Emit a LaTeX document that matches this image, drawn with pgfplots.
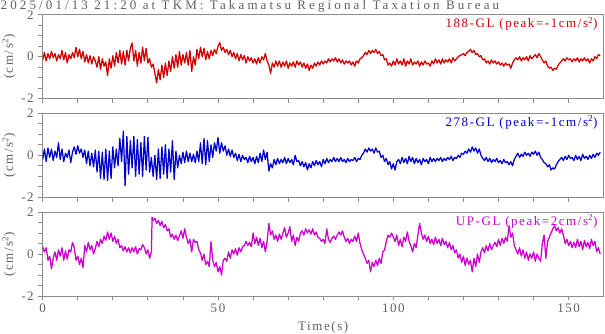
\documentclass[border=0pt]{standalone}
\usepackage{fontspec}
\setmainfont{Liberation Serif}[LetterSpace=12]
\newfontfamily\titlefont{Liberation Serif}[LetterSpace=24]
\usepackage{pgfplots}
\pgfplotsset{compat=1.18}
\definecolor{tred}{RGB}{208,0,0}
\definecolor{tblue}{RGB}{0,0,204}
\definecolor{tmag}{RGB}{204,0,204}
\definecolor{framec}{RGB}{140,140,140}
\definecolor{txt}{RGB}{95,95,95}
\pgfplotsset{panel/.style={
  scale only axis, width=561pt, height=84pt,
  xmin=0, xmax=160, ymin=-2, ymax=2,
  xtick={0,50,100,150}, minor x tick num=4,
  ytick={-2,0,2}, minor y tick num=3,
  tick align=outside, xtick pos=bottom, ytick pos=left,
  major tick length=4.5pt, minor tick length=4.5pt,
  axis line style={framec, line width=0.8pt},
  every tick/.style={framec, line width=0.8pt},
  every minor tick/.style={framec, line width=0.8pt},
  tick label style={text=txt, font=\fontsize{13}{13}\selectfont},
  /pgf/number format/assume math mode=true,
  ylabel={(cm/s\textsuperscript{2})},
  ylabel style={at={(axis description cs:-0.06,0.5)}, anchor=center, text=txt, font=\fontsize{13}{13}\selectfont},
  yticklabel style={anchor=east, xshift=-1pt},
  every axis plot/.append style={line width=1.25pt, line join=round},
}}
\begin{document}
\begin{tikzpicture}
\useasboundingbox (0,0) rectangle (605pt,334pt);
\node[anchor=base west, text=txt, font=\titlefont\fontsize{13}{13}\selectfont, inner sep=0pt] at (0.5pt,324.5pt) {2025/01/13 21:20 at TKM: Takamatsu Regional Taxation Bureau};
% Panel 1
\begin{axis}[panel, at={(42.7pt,235.3pt)}, anchor=south west, xticklabels={}]
\addplot[tred] coordinates {
(0,-0.15)(0.5,0.2)(1,-0.2)(1.5,0.15)(2,-0.1)(2.5,0.25)(3,-0.05)(3.5,0.15)(4,-0.2)(4.5,0.1)
(5,-0.1)(5.5,0.3)(6,-0.15)(6.5,0.2)(7,-0.3)(7.5,0.1)(8,-0.1)(8.5,0.2)(9,-0.05)(9.5,0.45)
(10,0.0)(10.5,0.35)(11,-0.1)(11.5,0.25)(12,-0.25)(12.5,0.1)(13,-0.3)(13.5,0.05)(14,-0.35)(14.5,0.0)
(15,-0.2)(15.5,-0.5)(16,0.0)(16.5,-0.6)(17,-0.1)(17.5,-0.45)(18,-0.25)(18.5,-0.9)(19,-0.1)(19.5,-0.55)
(20,0.05)(20.5,-0.45)(21,0.2)(21.5,-0.3)(22,0.3)(22.5,-0.35)(23,0.25)(23.5,-0.4)(24,0.3)(24.5,-0.2)
(25,0.4)(25.5,0.65)(26,-0.2)(26.5,0.3)(27,-0.45)(27.5,0.2)(28,-0.3)(28.5,0.45)(29,-0.2)(29.5,0.4)
(30,-0.3)(30.5,-0.1)(31,-0.5)(31.5,-0.35)(32,-0.8)(32.5,-1.25)(33,-0.6)(33.5,-1.1)(34,-0.4)(34.5,-1.0)
(35,-0.3)(35.5,-0.9)(36,-0.2)(36.5,-0.7)(37,0.0)(37.5,-0.55)(38,0.1)(38.5,-0.5)(39,0.25)(39.5,-0.4)
(40,0.1)(40.5,-0.3)(41,0.2)(41.5,-0.4)(42,0.3)(42.5,-0.7)(43,0.0)(43.5,-0.4)(44,0.35)(44.5,-0.1)
(45,0.45)(45.5,0.0)(46,0.4)(46.5,-0.15)(47,0.25)(47.5,-0.1)(48,0.3)(48.5,0.05)(49,0.35)(49.5,0.15)
(50,0.5)(50.5,0.67)(51,0.3)(51.5,0.45)(52,0.2)(52.5,0.35)(53,0.1)(53.5,0.3)(54,0.0)(54.5,0.2)
(55,-0.1)(55.5,0.15)(56,-0.2)(56.5,0.1)(57,-0.15)(57.5,0.05)(58,-0.3)(58.5,0.0)(59,-0.2)(59.5,-0.05)
(60,-0.3)(60.5,-0.1)(61,-0.35)(61.5,-0.05)(62,-0.3)(62.5,0.0)(63,-0.15)(63.5,0.15)(64,-0.2)(64.5,-0.4)
(65,-0.8)(65.5,-0.3)(66,-0.5)(66.5,-0.2)(67,-0.45)(67.5,-0.2)(68,-0.5)(68.5,-0.25)(69,-0.45)(69.5,-0.2)
(70,-0.55)(70.5,-0.3)(71,-0.45)(71.5,-0.25)(72,-0.5)(72.5,-0.2)(73,-0.4)(73.5,-0.25)(74,-0.5)(74.5,-0.3)
(75,-0.55)(75.5,-0.35)(76,-0.65)(76.5,-0.4)(77,-0.55)(77.5,-0.3)(78,-0.45)(78.5,-0.25)(79,-0.4)(79.5,-0.2)
(80,-0.35)(80.5,-0.2)(81,-0.3)(81.5,-0.1)(82,-0.25)(82.5,-0.1)(83,-0.2)(83.5,-0.05)(84,-0.25)(84.5,-0.1)
(85,-0.3)(85.5,-0.15)(86,-0.35)(86.5,-0.2)(87,-0.3)(87.5,-0.2)(88,-0.4)(88.5,-0.25)(89,-0.45)(89.5,-0.2)
(90,-0.3)(90.5,-0.1)(91,-0.05)(91.5,0.05)(92,0.2)(92.5,0.1)(93,0.3)(93.5,0.15)(94,0.3)(94.5,0.2)
(95,0.35)(95.5,0.15)(96,0.25)(96.5,0.05)(97,0.1)(97.5,-0.15)(98,-0.1)(98.5,-0.4)(99,-0.3)(99.5,-0.45)
(100,-0.2)(100.5,-0.4)(101,-0.1)(101.5,-0.35)(102,-0.2)(102.5,-0.4)(103,-0.1)(103.5,-0.45)(104,-0.2)(104.5,-0.35)
(105,-0.1)(105.5,-0.4)(106,-0.25)(106.5,-0.35)(107,-0.2)(107.5,-0.45)(108,-0.25)(108.5,-0.4)(109,-0.2)(109.5,-0.35)
(110,-0.3)(110.5,-0.45)(111,-0.2)(111.5,-0.35)(112,-0.1)(112.5,-0.3)(113,-0.15)(113.5,-0.35)(114,-0.1)(114.5,-0.3)
(115,-0.15)(115.5,-0.25)(116,-0.1)(116.5,-0.3)(117,-0.05)(117.5,-0.2)(118,-0.1)(118.5,0.0)(119,0.05)(119.5,0.1)
(120,0.15)(120.5,0.05)(121,0.2)(121.5,0.25)(122,0.35)(122.5,0.2)(123,0.3)(123.5,0.1)(124,0.15)(124.5,0.0)
(125,0.05)(125.5,-0.15)(126,-0.1)(126.5,-0.3)(127,-0.2)(127.5,-0.35)(128,-0.15)(128.5,-0.3)(129,-0.2)(129.5,-0.35)
(130,-0.25)(130.5,-0.4)(131,-0.3)(131.5,-0.45)(132,-0.3)(132.5,-0.4)(133,-0.35)(133.5,-0.55)(134,-0.3)(134.5,-0.15)
(135,-0.05)(135.5,-0.15)(136,0.0)(136.5,-0.2)(137,-0.05)(137.5,-0.15)(138,0.0)(138.5,-0.2)(139,0.05)(139.5,-0.1)
(140,0.0)(140.5,0.1)(141,-0.05)(141.5,0.15)(142,0.0)(142.5,-0.15)(143,-0.3)(143.5,-0.2)(144,-0.45)(144.5,-0.55)
(145,-0.5)(145.5,-0.65)(146,-0.55)(146.5,-0.6)(147,-0.4)(147.5,-0.3)(148,-0.2)(148.5,-0.1)(149,-0.2)(149.5,-0.05)
(150,-0.15)(150.5,-0.1)(151,-0.25)(151.5,-0.1)(152,-0.2)(152.5,-0.05)(153,-0.25)(153.5,-0.1)(154,-0.2)(154.5,-0.05)
(155,-0.2)(155.5,-0.1)(156,-0.3)(156.5,-0.1)(157,-0.2)(157.5,0.0)(158,-0.1)(158.5,0.1)(159,0.05)
};
\node[anchor=base east, text=tred, font=\fontsize{13}{13}\selectfont, inner sep=0pt] at ([xshift=-6pt,yshift=-13pt]axis description cs:1,1) {188-GL (peak=-1cm/s\textsuperscript{2})};
\end{axis}
% Panel 2
\begin{axis}[panel, at={(42.7pt,136.7pt)}, anchor=south west, xticklabels={}]
\addplot[tblue] coordinates {
(0,-0.2)(0.5,0.3)(1,-0.3)(1.5,0.35)(2,-0.1)(2.5,0.3)(3,-0.25)(3.5,0.2)(4,-0.1)(4.5,0.6)
(5,-0.2)(5.5,0.3)(6,-0.3)(6.5,0.1)(7,-0.1)(7.5,0.25)(8,-0.35)(8.5,0.15)(9,0.4)(9.5,0.05)
(10,0.45)(10.5,0.1)(11,0.3)(11.5,-0.1)(12,0.25)(12.5,-0.4)(13,0.2)(13.5,-0.5)(14,0.1)(14.5,-0.55)
(15,0.25)(15.5,-0.8)(16,0.2)(16.5,-1.1)(17,0.15)(17.5,-1.15)(18,0.3)(18.5,-1.2)(19,0.2)(19.5,-1.1)
(20,0.4)(20.5,-0.6)(21,0.3)(21.5,-0.5)(22,0.8)(22.5,-0.3)(23,1.15)(23.5,-1.45)(24,0.9)(24.5,-0.9)
(25,0.7)(25.5,-0.6)(26,0.9)(26.5,-1.0)(27,0.75)(27.5,-0.9)(28,0.6)(28.5,-1.0)(29,0.9)(29.5,-0.7)
(30,0.85)(30.5,-0.8)(31,-0.1)(31.5,-1.0)(32,0.0)(32.5,-1.15)(33,0.3)(33.5,-1.1)(34,0.4)(34.5,-0.9)
(35,0.5)(35.5,-1.1)(36,0.3)(36.5,-0.8)(37,0.7)(37.5,-1.15)(38,0.2)(38.5,-0.6)(39,0.0)(39.5,-0.4)
(40,0.15)(40.5,-0.35)(41,0.2)(41.5,-0.3)(42,0.1)(42.5,-0.3)(43,0.05)(43.5,-0.35)(44,0.2)(44.5,-0.3)
(45,0.6)(45.5,-0.4)(46,0.8)(46.5,-0.45)(47,0.7)(47.5,-0.3)(48,0.5)(48.5,-0.1)(49,0.6)(49.5,0.2)
(50,0.85)(50.5,0.1)(51,0.6)(51.5,0.2)(52,0.45)(52.5,0.0)(53,0.3)(53.5,-0.05)(54,0.25)(54.5,-0.1)
(55,0.1)(55.5,-0.25)(56,0.05)(56.5,-0.3)(57,0.0)(57.5,-0.2)(58,-0.1)(58.5,-0.35)(59,-0.05)(59.5,-0.3)
(60,-0.1)(60.5,-0.4)(61,-0.05)(61.5,-0.35)(62,0.1)(62.5,-0.3)(63,0.25)(63.5,-0.2)(64,0.15)(64.5,-0.75)
(65,-0.4)(65.5,-0.6)(66,-0.2)(66.5,-0.45)(67,-0.15)(67.5,-0.4)(68,-0.2)(68.5,-0.35)(69,-0.1)(69.5,-0.4)
(70,-0.15)(70.5,-0.35)(71,-0.2)(71.5,-0.45)(72,0.0)(72.5,-0.3)(73,-0.25)(73.5,-0.5)(74,-0.3)(74.5,-0.55)
(75,-0.35)(75.5,-0.7)(76,-0.4)(76.5,-0.6)(77,-0.3)(77.5,-0.5)(78,-0.25)(78.5,-0.45)(79,-0.3)(79.5,-0.55)
(80,-0.2)(80.5,-0.4)(81,-0.15)(81.5,-0.35)(82,-0.2)(82.5,-0.3)(83,-0.1)(83.5,-0.3)(84,-0.15)(84.5,-0.3)
(85,-0.1)(85.5,-0.3)(86,-0.2)(86.5,-0.35)(87,-0.15)(87.5,-0.3)(88,-0.2)(88.5,-0.25)(89,-0.1)(89.5,-0.3)
(90,-0.15)(90.5,-0.2)(91,0.0)(91.5,0.1)(92,0.3)(92.5,0.15)(93,0.35)(93.5,0.2)(94,0.3)(94.5,0.1)
(95,0.35)(95.5,0.15)(96,0.2)(96.5,-0.1)(97,0.0)(97.5,-0.3)(98,-0.15)(98.5,-0.45)(99,-0.3)(99.5,-0.65)
(100,-0.4)(100.5,-0.7)(101,-0.3)(101.5,-0.2)(102,-0.4)(102.5,-0.1)(103,-0.35)(103.5,-0.15)(104,-0.4)(104.5,-0.05)
(105,-0.3)(105.5,-0.1)(106,-0.4)(106.5,-0.15)(107,-0.35)(107.5,-0.2)(108,-0.45)(108.5,-0.15)(109,-0.3)(109.5,-0.2)
(110,-0.4)(110.5,-0.1)(111,-0.3)(111.5,-0.15)(112,-0.3)(112.5,-0.15)(113,-0.25)(113.5,-0.1)(114,-0.3)(114.5,-0.15)
(115,-0.25)(115.5,-0.1)(116,-0.2)(116.5,-0.05)(117,-0.25)(117.5,-0.1)(118,-0.15)(118.5,0.0)(119,-0.1)(119.5,0.1)
(120,0.05)(120.5,0.2)(121,0.1)(121.5,0.3)(122,0.15)(122.5,0.4)(123,0.2)(123.5,0.35)(124,0.1)(124.5,0.3)
(125,0.0)(125.5,-0.15)(126,-0.25)(126.5,-0.1)(127,-0.3)(127.5,-0.15)(128,-0.35)(128.5,-0.2)(129,-0.3)(129.5,-0.15)
(130,-0.35)(130.5,-0.25)(131,-0.4)(131.5,-0.2)(132,-0.35)(132.5,-0.3)(133,-0.45)(133.5,-0.3)(134,-0.5)(134.5,-0.2)
(135,-0.05)(135.5,0.1)(136,-0.1)(136.5,0.05)(137,-0.05)(137.5,0.15)(138,0.0)(138.5,0.1)(139,-0.05)(139.5,0.15)
(140,0.05)(140.5,0.2)(141,0.0)(141.5,0.15)(142,-0.1)(142.5,-0.2)(143,-0.35)(143.5,-0.4)(144,-0.55)(144.5,-0.45)
(145,-0.7)(145.5,-0.6)(146,-0.65)(146.5,-0.45)(147,-0.3)(147.5,-0.2)(148,-0.1)(148.5,-0.25)(149,-0.05)(149.5,-0.2)
(150,0.0)(150.5,-0.15)(151,-0.1)(151.5,-0.25)(152,0.0)(152.5,-0.2)(153,-0.05)(153.5,-0.25)(154,0.05)(154.5,-0.15)
(155,-0.05)(155.5,-0.2)(156,0.0)(156.5,-0.15)(157,0.05)(157.5,-0.1)(158,0.1)(158.5,0.0)(159,0.15)
};
\node[anchor=base east, text=tblue, font=\fontsize{13}{13}\selectfont, inner sep=0pt] at ([xshift=-6pt,yshift=-13pt]axis description cs:1,1) {278-GL (peak=-1cm/s\textsuperscript{2})};
\end{axis}
% Panel 3
\begin{axis}[panel, at={(42.7pt,38pt)}, anchor=south west,
  xlabel={Time(s)}, xlabel style={at={(axis description cs:0.5,0)}, anchor=base, yshift=-35pt, text=txt, font=\fontsize{13}{13}\selectfont}]
\addplot[tmag] coordinates {
(0,0.35)(0.5,0.1)(1,0.3)(1.5,-0.3)(2,-0.1)(2.5,-0.7)(3,-0.2)(3.5,0.1)(4,-0.3)(4.5,0.2)
(5,-0.1)(5.5,0.3)(6,-0.3)(6.5,0.15)(7,-0.25)(7.5,0.2)(8,0.1)(8.5,0.55)(9,0.3)(9.5,-0.3)
(10,-0.1)(10.5,-0.5)(11,-0.2)(11.5,-0.65)(12,0.4)(12.5,0.1)(13,0.55)(13.5,0.2)(14,0.4)(14.5,0.0)
(15,0.25)(15.5,0.6)(16,0.35)(16.5,0.7)(17,0.5)(17.5,0.85)(18,0.65)(18.5,1.05)(19,0.7)(19.5,1.0)
(20,0.6)(20.5,0.85)(21,0.5)(21.5,0.7)(22,0.3)(22.5,0.4)(23,0.15)(23.5,0.35)(24,0.1)(24.5,0.3)
(25,0.05)(25.5,0.3)(26,0.1)(26.5,0.35)(27,0.0)(27.5,0.25)(28,0.2)(28.5,0.45)(29,0.3)(29.5,0.0)
(30,0.2)(30.5,-0.2)(31,0.1)(31.2,1.75)(31.5,1.6)(32,1.7)(32.5,1.45)(33,1.6)(33.5,1.35)(34,1.55)(34.5,1.25)
(35,1.4)(35.5,1.1)(36,1.2)(36.5,0.8)(37,0.95)(37.5,0.7)(38,0.9)(38.5,0.65)(39,0.85)(39.5,1.1)
(40,0.75)(40.5,1.2)(41,0.8)(41.5,0.5)(42,0.7)(42.5,0.1)(43,0.7)(43.5,0.55)(44,0.6)(44.5,0.2)
(45,0.05)(45.5,-0.3)(46,0.0)(46.5,-0.5)(47,-0.35)(47.5,-0.6)(48,0.6)(48.5,-0.3)(49,-0.6)(49.5,-0.4)
(50,-0.85)(50.5,-0.6)(51,-1.0)(51.5,-0.3)(52,-0.2)(52.5,-0.35)(53,0.1)(53.5,-0.2)(54,0.2)(54.5,0.0)
(55,0.25)(55.5,-0.05)(56,0.3)(56.5,0.1)(57,0.35)(57.5,0.4)(58,0.6)(58.5,0.4)(59,0.55)(59.5,0.35)
(60,1.0)(60.5,0.5)(61,0.8)(61.5,0.4)(62,0.75)(62.5,0.3)(63,0.6)(63.5,0.1)(64,0.6)(64.5,1.45)
(65,0.9)(65.5,1.1)(66,0.7)(66.5,0.9)(67,0.6)(67.5,0.95)(68,0.7)(68.5,1.0)(69,1.25)(69.5,0.8)
(70,1.0)(70.5,1.3)(71,0.6)(71.5,0.9)(72,0.4)(72.5,0.8)(73,0.6)(73.5,1.0)(74,1.1)(74.5,0.9)
(75,1.2)(75.5,1.0)(76,1.15)(76.5,0.95)(77,1.2)(77.5,0.9)(78,1.05)(78.5,0.8)(79,0.75)(79.5,0.6)
(80,0.7)(80.5,0.5)(81,1.2)(81.5,0.7)(82,0.55)(82.5,0.75)(83,0.85)(83.5,0.7)(84,0.9)(84.5,1.05)
(85,0.9)(85.5,1.1)(86,0.8)(86.5,0.6)(87,0.75)(87.5,0.5)(88,0.7)(88.5,0.6)(89,0.85)(89.5,0.6)
(90,1.0)(90.5,0.5)(91,0.2)(91.5,0.0)(92,-0.2)(92.5,-0.45)(93,-0.3)(93.5,-0.85)(94,-0.4)(94.5,-0.6)
(95,-0.3)(95.5,-0.55)(96,-0.2)(96.5,-0.45)(97,0.1)(97.5,0.2)(98,0.6)(98.5,0.9)(99,0.8)(99.5,1.0)
(100,0.8)(100.5,0.6)(101,0.9)(101.5,0.4)(102,0.7)(102.5,0.35)(103,0.8)(103.5,0.6)(104,1.05)(104.5,0.6)
(105,0.4)(105.5,0.1)(106,0.5)(106.5,0.3)(107,0.9)(107.5,1.45)(108,1.0)(108.5,0.7)(109,0.9)(109.5,0.6)
(110,0.85)(110.5,0.5)(111,0.7)(111.5,0.45)(112,0.8)(112.5,0.5)(113,0.7)(113.5,0.4)(114,0.75)(114.5,0.45)
(115,0.6)(115.5,0.3)(116,0.55)(116.5,0.2)(117,0.4)(117.5,0.05)(118,0.2)(118.5,-0.2)(119,0.0)(119.5,-0.4)
(120,-0.1)(120.5,-0.55)(121,-0.2)(121.5,-0.5)(122,-0.3)(122.5,-0.85)(123,-0.2)(123.5,-0.6)(124,0.0)(124.5,-0.4)
(125,0.1)(125.5,0.3)(126,0.05)(126.5,0.4)(127,0.15)(127.5,0.5)(128,0.2)(128.5,0.4)(129,0.55)(129.5,0.35)
(130,0.7)(130.5,0.4)(131,0.75)(131.5,0.5)(132,0.8)(132.5,0.6)(133,1.35)(133.5,0.8)(134,1.0)(134.5,0.4)
(135,0.2)(135.5,0.0)(136,0.3)(136.5,-0.1)(137,0.2)(137.5,-0.2)(138,0.1)(138.5,-0.3)(139,0.0)(139.5,-0.2)
(140,0.1)(140.5,-0.35)(141,0.0)(141.5,-0.2)(142,-0.35)(142.5,0.5)(143,0.9)(143.5,-0.2)(144,0.6)(144.5,0.8)
(145,1.0)(145.5,1.2)(146,1.35)(146.5,1.1)(147,1.25)(147.5,1.0)(148,1.2)(148.5,0.9)(149,0.5)(149.5,0.7)
(150,0.4)(150.5,0.6)(151,0.3)(151.5,0.55)(152,0.3)(152.5,0.7)(153,0.35)(153.5,0.6)(154,0.2)(154.5,0.65)
(155,0.35)(155.5,0.55)(156,0.25)(156.5,0.7)(157,0.4)(157.5,0.6)(158,0.1)(158.5,0.3)(159,0.0)
};
\node[anchor=base east, text=tmag, font=\fontsize{13}{13}\selectfont, inner sep=0pt] at ([xshift=-6pt,yshift=-13pt]axis description cs:1,1) {UP-GL (peak=2cm/s\textsuperscript{2})};
\end{axis}
\end{tikzpicture}
\end{document}
